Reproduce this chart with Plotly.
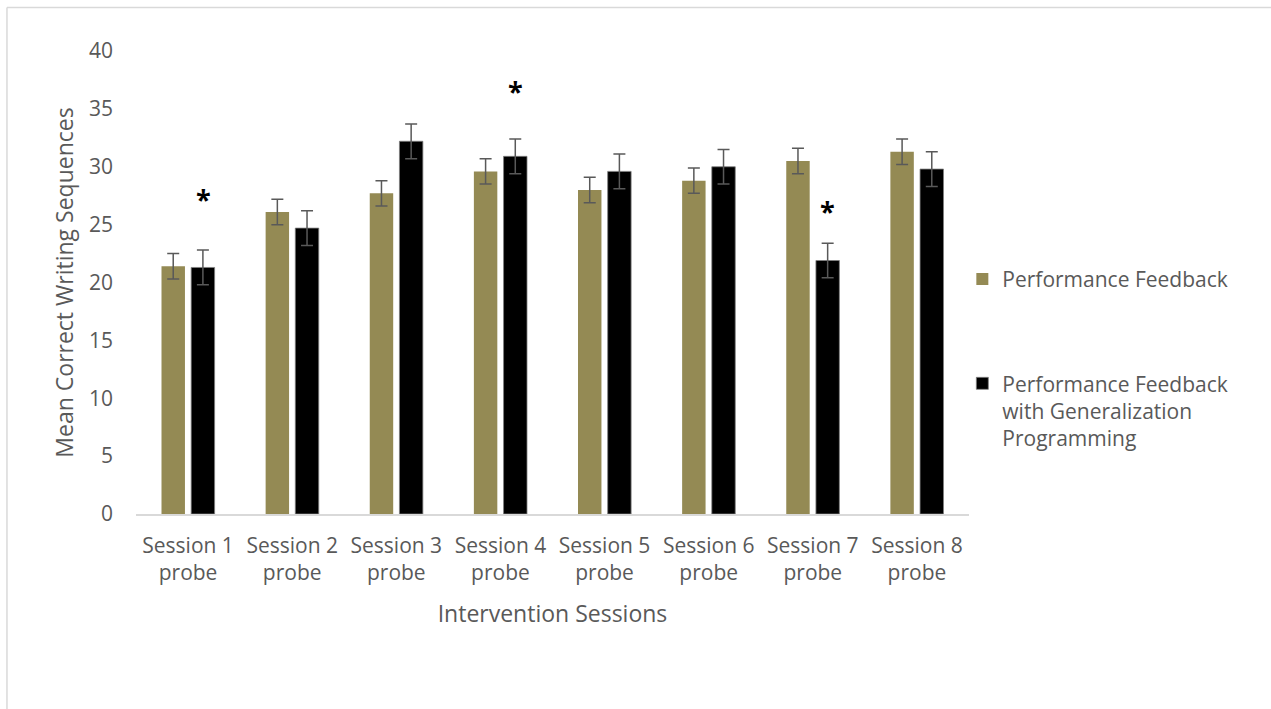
import plotly.graph_objects as go

# Session labels along the x axis
sessions = [f"Session {i}<br>probe" for i in range(1, 9)]

# Mean correct writing sequences per condition
pf_means = [21.4, 26.1, 27.7, 29.6, 28.0, 28.8, 30.5, 31.3]
pfgp_means = [21.3, 24.7, 32.2, 30.9, 29.6, 30.0, 21.9, 29.8]

# Standard errors
pf_err = [1.1, 1.1, 1.1, 1.1, 1.1, 1.1, 1.1, 1.1]
pfgp_err = [1.5, 1.5, 1.5, 1.5, 1.5, 1.5, 1.5, 1.5]

# Significance markers (session index, height in axis units)
sig_index = [0, 3, 6]
sig_height = [27.4, 36.8, 26.4]

y_ticks = [0, 5, 10, 15, 20, 25, 30, 35, 40]

FONT = "Open Sans"
GREY = "#595959"

fig = go.Figure()
fig.add_trace(go.Bar(
    x=sessions, y=pf_means, name="Performance Feedback",
    marker=dict(color="#948A54", line=dict(width=0)),
    error_y=dict(type="data", array=pf_err, color=GREY, thickness=1.5, width=6),
    legendgroup="a",
))
fig.add_trace(go.Bar(
    x=sessions, y=pfgp_means,
    name="Performance Feedback<br>with Generalization<br>Programming",
    marker=dict(color="#000000", line=dict(width=0.8, color="#7f7f7f")),
    error_y=dict(type="data", array=pfgp_err, color=GREY, thickness=1.5, width=6),
    legendgroup="b",
))

for i, h in zip(sig_index, sig_height):
    fig.add_annotation(
        x=sessions[i], y=h, text="<b>*</b>", showarrow=False, xshift=15, yshift=-2,
        font=dict(family=FONT, size=27, color="#000000"),
    )

# outer chart border (top and left edges)
fig.add_shape(type="line", xref="paper", yref="paper",
              x0=-0.1549, x1=1.37, y0=1.094, y1=1.094,
              line=dict(color="#D9D9D9", width=1.5))
fig.add_shape(type="line", xref="paper", yref="paper",
              x0=-0.1549, x1=-0.1549, y0=1.094, y1=-0.45,
              line=dict(color="#D9D9D9", width=1.5))

fig.update_layout(
    width=1271, height=709,
    margin=dict(l=136, r=302, t=51, b=195),
    paper_bgcolor="white", plot_bgcolor="white",
    barmode="group", bargap=0.43, bargroupgap=0.21,
    font=dict(family=FONT, size=21, color=GREY),
    showlegend=True,
    legend=dict(x=0.992, y=0.551, xanchor="left", yanchor="top",
                valign="top", tracegroupgap=74,
                font=dict(family=FONT, size=21, color=GREY)),
    xaxis=dict(
        showline=True, linecolor="#D9D9D9", linewidth=1.5,
        showgrid=False, ticks="", ticklabelstandoff=12,
        title=dict(text="Intervention Sessions", standoff=21,
                   font=dict(size=23, color=GREY)),
        tickfont=dict(size=21, color=GREY),
    ),
    yaxis=dict(
        range=[0, 40], tickvals=y_ticks, showgrid=False, zeroline=False,
        showline=False, ticks="", ticklabelstandoff=22,
        title=dict(text="Mean Correct Writing Sequences", standoff=8,
                   font=dict(size=23, color=GREY)),
        tickfont=dict(size=21, color=GREY),
    ),
)

fig.write_html("out.html")
